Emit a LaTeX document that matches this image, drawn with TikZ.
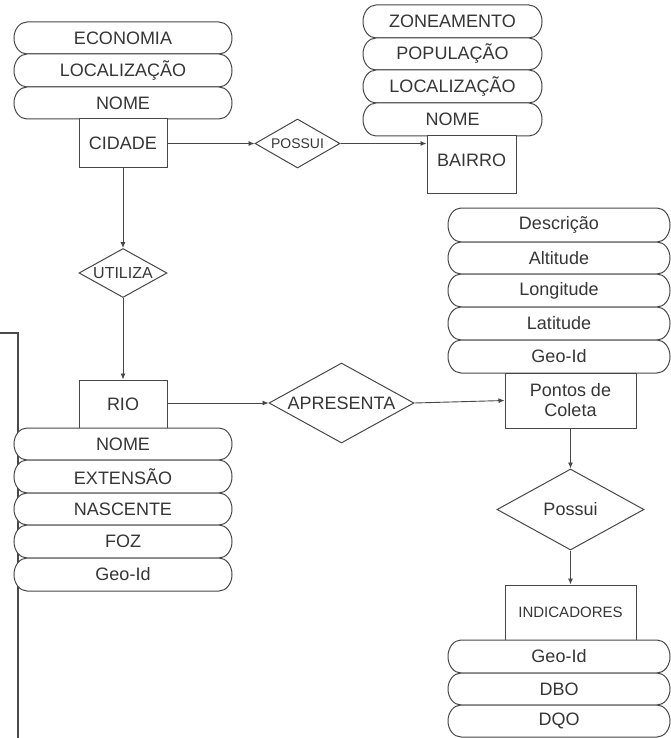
\documentclass[tikz,border=0pt]{standalone}
\usepackage{fontspec}
\setmainfont{Liberation Sans}
\usetikzlibrary{shapes.geometric,arrows.meta}

\definecolor{ink}{HTML}{363636}
\definecolor{edge}{HTML}{474747}

\tikzset{
  entity/.style={draw=edge, line width=1pt, fill=white, rectangle, inner sep=0pt,
    text=ink, font=\fontsize{18}{20}\selectfont, align=center},
  relation/.style={draw=edge, line width=1pt, fill=white, diamond, inner sep=0pt,
    text=ink, font=\fontsize{18}{20}\selectfont},
  attrline/.style={draw=edge, line width=1pt, fill=white},
  attrtext/.style={text=ink, font=\fontsize{18}{20}\selectfont, inner sep=0pt},
  link/.style={draw=edge, line width=0.9pt, -{Latex[length=6pt,width=5pt]}},
  bracketline/.style={draw=ink!90, line width=2.6pt}
}

% attribute capsule: name, left x, right x, top y, bottom y, label (pixel units, y downwards)
\newcommand\attrcap[6]{%
  \pgfmathsetmacro\capry{(#5-#4)/2}%
  \draw[attrline] (#2+13,-#4) -- (#3-13,-#4)
    arc[start angle=90, end angle=-90, x radius=13pt, y radius=\capry pt]
    -- (#2+13,-#5)
    arc[start angle=270, end angle=90, x radius=13pt, y radius=\capry pt] -- cycle;
  \node[attrtext] (#1) at ({(#2+#3)/2},{-(#4+#5)/2}) {#6};%
}

\begin{document}
\begin{tikzpicture}[x=1pt,y=1pt]
  \useasboundingbox (0,0) rectangle (671,-738);

  % left bracket
  \draw[bracketline] (0,-333) -- (18,-333) -- (18,-739);

  % CIDADE and its attributes
  \attrcap{cEco}{14}{232}{22}{54}{ECONOMIA}
  \attrcap{cLoc}{14}{232}{54}{87}{LOCALIZAÇÃO}
  \attrcap{cNome}{14}{232}{87}{119}{NOME}
  \node[entity, minimum width=88pt, minimum height=49pt] (cidade) at (123,-143.5) {CIDADE};

  % BAIRRO and its attributes
  \attrcap{bZon}{363}{542}{5}{38}{ZONEAMENTO}
  \attrcap{bPop}{363}{542}{38}{70}{POPULAÇÃO}
  \attrcap{bLoc}{363}{542}{70}{103}{LOCALIZAÇÃO}
  \attrcap{bNome}{363}{542}{103}{136}{NOME}
  \node[entity, minimum width=89pt, minimum height=57pt, text height=13pt, text depth=8pt]
    (bairro) at (471.5,-164.5) {BAIRRO};

  % POSSUI (cidade - bairro)
  \node[relation, minimum width=85pt, minimum height=49pt, aspect=1.73,
        font=\fontsize{14}{16}\selectfont] (possuiB) at (297.5,-143.5) {POSSUI};

  % UTILIZA
  \node[relation, minimum width=88pt, minimum height=49pt, aspect=1.8,
        font=\fontsize{16}{18}\selectfont] (utiliza) at (123,-273) {UTILIZA};

  % RIO and its attributes
  \node[entity, minimum width=88pt, minimum height=48pt] (rio) at (123,-404) {RIO};
  \attrcap{rNome}{14}{232}{428}{460}{NOME}
  \attrcap{rExt}{14}{232}{460}{493}{EXTENSÃO}
  \attrcap{rNas}{14}{232}{493}{525}{NASCENTE}
  \attrcap{rFoz}{14}{232}{525}{558}{FOZ}
  \attrcap{rGeo}{14}{232}{558}{591}{Geo-Id}

  % APRESENTA
  \node[relation, minimum width=145pt, minimum height=80pt, aspect=1.81] (apresenta) at (341.5,-403) {APRESENTA};

  % Pontos de Coleta and its attributes
  \attrcap{pDesc}{448}{670}{208}{242}{Descrição}
  \attrcap{pAlt}{448}{670}{242}{274}{Altitude}
  \attrcap{pLon}{448}{670}{274}{307}{Longitude}
  \attrcap{pLat}{448}{670}{307}{340}{Latitude}
  \attrcap{pGeo}{448}{670}{340}{373}{Geo-Id}
  \node[entity, minimum width=131pt, minimum height=55pt] (pontos) at (570.5,-400.5) {Pontos de\\Coleta};

  % Possui (pontos - indicadores)
  \node[relation, minimum width=147pt, minimum height=81pt, aspect=1.81] (possuiI) at (570.5,-509.5) {Possui};

  % INDICADORES and its attributes
  \node[entity, minimum width=131pt, minimum height=55pt,
        font=\fontsize{15}{17}\selectfont] (indic) at (570.5,-612.5) {INDICADORES};
  \attrcap{iGeo}{448}{670}{640}{673}{Geo-Id}
  \attrcap{iDbo}{448}{670}{673}{705}{DBO}
  \attrcap{iDqo}{448}{670}{705}{737}{DQO}

  % connectors
  \draw[link] (cidade.east) -- (possuiB.west);
  \draw[link] (possuiB.east) -- (possuiB.east -| bairro.west);
  \draw[link] (cidade.south) -- (utiliza.north);
  \draw[link] (utiliza.south) -- (rio.north);
  \draw[link] (rio.east |- apresenta.west) -- (apresenta.west);
  \draw[link] (apresenta.east) -- (pontos.west);
  \draw[link] (pontos.south) -- (possuiI.north);
  \draw[link] (possuiI.south) -- (indic.north);
\end{tikzpicture}
\end{document}
